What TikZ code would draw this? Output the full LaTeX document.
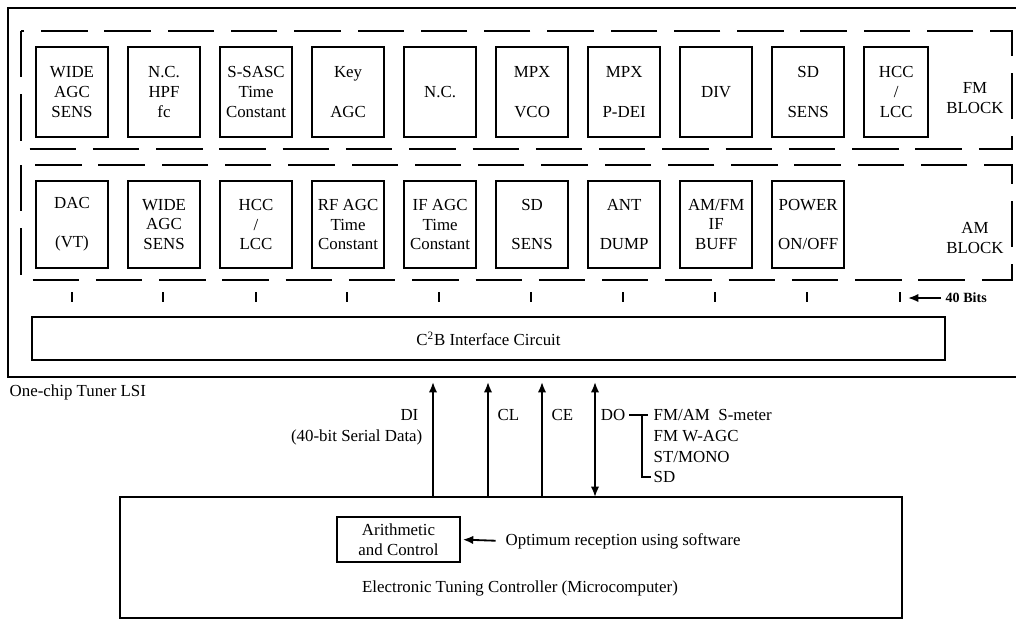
\documentclass[tikz,border=0pt]{standalone}
\usepackage{fontspec}
\setmainfont{Liberation Serif}
\usetikzlibrary{arrows.meta,positioning}

\begin{document}
\begin{tikzpicture}[x=.025cm,y=-.025cm,node distance=.5cm,font=\large,
box/.style={draw,line width=1.2pt,align=center,minimum width=1.8cm,inner sep=1pt,outer sep=0pt},
fmbox/.style={box,minimum height=2.25cm},
ambox/.style={box,minimum height=2.175cm},
block/.style={draw,line width=1.1pt,dash pattern=on 33pt off 12pt},
chip/.style={draw,line width=1.2pt},
lbl/.style={inner sep=1pt},
busline/.style={line width=1pt},
arrow/.style={-{Latex[length=2.6mm,width=2.1mm]},line width=1.3pt},
darrow/.style={{Latex[length=2.6mm,width=2.1mm]}-{Latex[length=2.6mm,width=2.1mm]},line width=1.3pt}]
\useasboundingbox (0,0) rectangle (1016,620);
% tuner chip
\draw[chip](1016,8) -| (8,377) -- (1016,377);
\node[lbl,anchor=west](lsi) at (8,392){One-chip Tuner LSI};
% FM block
\draw[block](21,31) rectangle (1012,149);
\node[fmbox](fmwide) at (72,92){WIDE\\AGC\\SENS};
\node[fmbox,right=of fmwide](fmhpf){N.C.\\HPF\\fc};
\node[fmbox,right=of fmhpf](fmsasc){S-SASC\\Time\\Constant};
\node[fmbox,right=of fmsasc](fmkey){Key\\[14pt]AGC};
\node[fmbox,right=of fmkey](fmnc){N.C.};
\node[fmbox,right=of fmnc](fmvco){MPX\\[14pt]VCO};
\node[fmbox,right=of fmvco](fmdei){MPX\\[14pt]P-DEI};
\node[fmbox,right=of fmdei](fmdiv){DIV};
\node[fmbox,right=of fmdiv](fmsd){SD\\[14pt]SENS};
\node[fmbox,minimum width=1.6cm,right=of fmsd](fmhcc){HCC\\/\\LCC};
\node[lbl,align=center](fmname) at (975,98){FM\\BLOCK};
% AM block
\draw[block](21,165) rectangle (1012,280);
\node[ambox](amdac) at (72,224.5){DAC\\[14pt](VT)};
\node[ambox,right=of amdac](amwide){WIDE\\AGC\\SENS};
\node[ambox,right=of amwide](amhcc){HCC\\/\\LCC};
\node[ambox,right=of amhcc](amrf){RF AGC\\Time\\Constant};
\node[ambox,right=of amrf](amif){IF AGC\\Time\\Constant};
\node[ambox,right=of amif](amsd){SD\\[14pt]SENS};
\node[ambox,right=of amsd](amant){ANT\\[14pt]DUMP};
\node[ambox,right=of amant](ambuff){AM/FM\\IF\\BUFF};
\node[ambox,right=of ambuff](ampow){POWER\\[14pt]ON/OFF};
\node[lbl,align=center](amname) at (975,238){AM\\BLOCK};
% 40 bit bus
\draw[busline](72,292)--(72,302) (163,292)--(163,302) (256,292)--(256,302) (347,292)--(347,302) (439,292)--(439,302) (531,292)--(531,302) (623,292)--(623,302) (715,292)--(715,302) (807,292)--(807,302) (900,292)--(900,302);
\node[lbl,anchor=west,font=\normalsize\bfseries](bits) at (944,298){40 Bits};
\coordinate(bitsend) at (908,298);
\draw[arrow,shorten <=2pt](bits.west)--(bitsend);
\node[box,minimum width=22.825cm,minimum height=1.075cm](c2b) at (488.5,338.5){C\textsuperscript{2}B Interface Circuit};
% controller
\node[box,minimum width=19.55cm,minimum height=3.025cm](etc) at (511,557.5){};
\node[lbl](etcname) at (520,588){Electronic Tuning Controller (Microcomputer)};
\node[box,minimum width=3.075cm,minimum height=1.125cm](arith) at (398.5,539.5){Arithmetic\\and Control};
\node[lbl,anchor=west](optim) at (504,541){Optimum reception using software};
\draw[arrow,shorten <=6pt,shorten >=2pt](optim.west)--(arith.east);
% serial lines
\coordinate(di) at (433,382);\coordinate(cl) at (488,382);\coordinate(ce) at (542,382);\coordinate(do) at (595,382);
\draw[arrow](di|-etc.north)--(di);\draw[arrow](cl|-etc.north)--(cl);\draw[arrow](ce|-etc.north)--(ce);\draw[darrow](do|-etc.north)--(do);
\node[lbl,anchor=east](dilbl) at (420,415){DI};
\node[lbl,anchor=east](serial) at (424,437){(40-bit Serial Data)};
\node[lbl,anchor=west](cllbl) at (496,415){CL};
\node[lbl,anchor=west](celbl) at (550,415){CE};
\node[lbl,anchor=east](dolbl) at (627,415){DO};
\draw[line width=.9pt](629,415)--(648,415) (642,415)|-(651,477);
\node[lbl,anchor=west](smeter) at (652,415){FM/AM\ \ S-meter};
\node[lbl,anchor=west](wagc) at (652,436){FM W-AGC};
\node[lbl,anchor=west](mono) at (652,457){ST/MONO};
\node[lbl,anchor=west](sdout) at (652,477){SD};
\end{tikzpicture}
\end{document}
